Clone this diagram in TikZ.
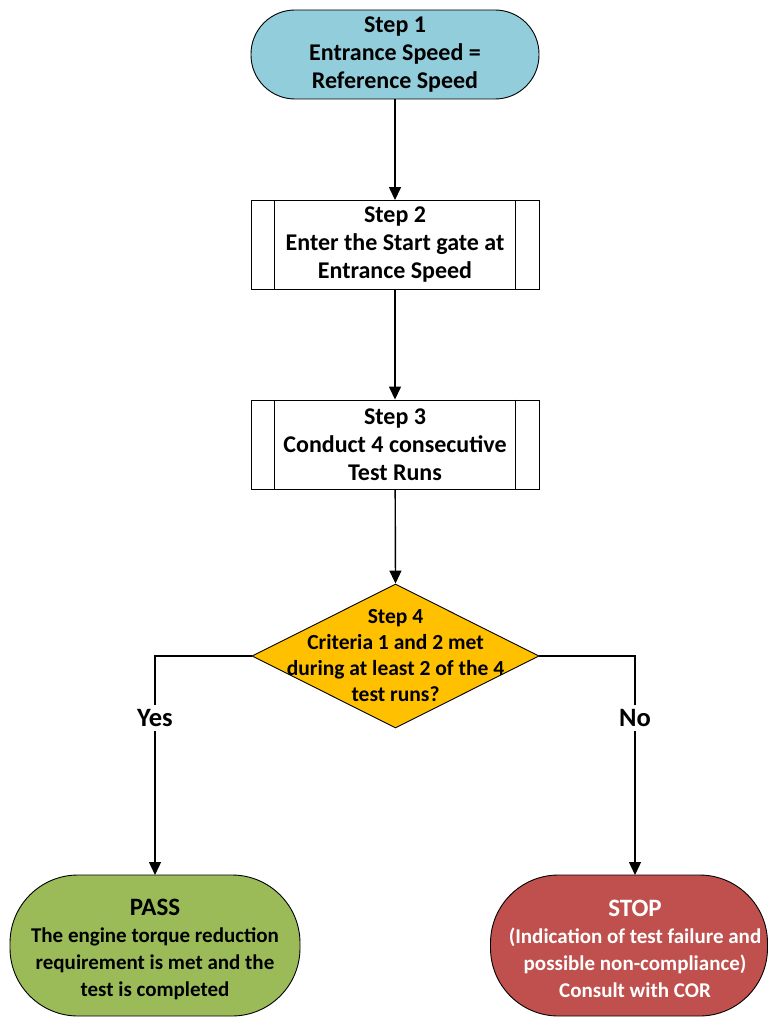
\documentclass[tikz,border=0pt]{standalone}
\usepackage{fontspec}
\setmainfont{Carlito}
\usetikzlibrary{shapes.geometric,arrows.meta}
\definecolor{cblue}{HTML}{92CDDC}
\definecolor{cgold}{HTML}{FFC000}
\definecolor{cgreen}{HTML}{9BBB59}
\definecolor{cred}{HTML}{C0504D}
\newcommand{\bigttl}[1]{{\fontsize{25}{28}\selectfont #1}}
\tikzset{
  base/.style={draw=black, line width=0.9pt, align=center, inner sep=0pt,
    font=\fontsize{24}{28}\selectfont\bfseries},
  term/.style={base, rectangle, minimum width=288pt, minimum height=89pt, rounded corners=44pt},
  bigterm/.style={draw=black, line width=0.9pt, rectangle, inner sep=0pt, minimum height=141pt, rounded corners=68pt},
  proc/.style={base, rectangle, fill=white, minimum width=288pt, minimum height=89pt},
  decision/.style={draw=black, line width=0.9pt, diamond, fill=cgold, inner sep=0pt,
    minimum width=287pt, minimum height=144pt},
  dtxt/.style={align=center, inner sep=0pt, font=\fontsize{21.5}{26}\selectfont\bfseries},
  ttxt/.style={align=center, inner sep=0pt, font=\fontsize{21}{27}\selectfont\bfseries},
  lbl/.style={fill=white, inner sep=4pt, font=\fontsize{26.5}{28}\selectfont\bfseries},
  arr/.style={draw=black, line width=1.4pt, -{Triangle[length=13pt,width=12pt]}}
}
\begin{document}
\begin{tikzpicture}[x=1pt,y=-1pt]
\useasboundingbox (0,0) rectangle (768,1019);
\clip (0,0) rectangle (768,1019);
\node[term, fill=cblue] (s1) at (395,54.5) {Step 1\\Entrance Speed =\\Reference Speed};
\node[proc] (s2) at (395,245) {Step 2\\Enter the Start gate at\\Entrance Speed};
\draw[line width=0.9pt] ([xshift=24pt]s2.north west) -- ([xshift=24pt]s2.south west)
  ([xshift=-24pt]s2.north east) -- ([xshift=-24pt]s2.south east);
\node[proc] (s3) at (395,444.5) {Step 3\\Conduct 4 consecutive\\Test Runs};
\draw[line width=0.9pt] ([xshift=24pt]s3.north west) -- ([xshift=24pt]s3.south west)
  ([xshift=-24pt]s3.north east) -- ([xshift=-24pt]s3.south east);
\node[decision] (s4) at (395.5,656) {};
\node[dtxt] (s4t) at (395.5,656) {Step 4\\Criteria 1 and 2 met\\during at least 2 of the 4\\test runs?};
\node[bigterm, fill=cgreen, minimum width=290pt] (pass) at (155,945.5) {};
\node[ttxt] (passt) at (155,949) {\bigttl{PASS}\\The engine torque reduction\\requirement is met and the\\test is completed};
\node[bigterm, fill=cred, minimum width=277pt] (stop) at (629,945.5) {};
\node[ttxt, text=white] (stopt) at (635,949) {\bigttl{STOP}\\(Indication of test failure and\\possible non-compliance)\\Consult with COR};
\coordinate (pin) at (155,875);
\coordinate (sin) at (635,875);
\draw[arr] (s1) -- (s2);
\draw[arr] (s2) -- (s3);
\draw[arr] (s3) -- (s4.north);
\draw[arr] (s4.west) -| (pin);
\draw[arr] (s4.east) -| (sin);
\node[lbl] (yes) at (155,718) {Yes};
\node[lbl] (no) at (635,718) {No};
\end{tikzpicture}
\end{document}
